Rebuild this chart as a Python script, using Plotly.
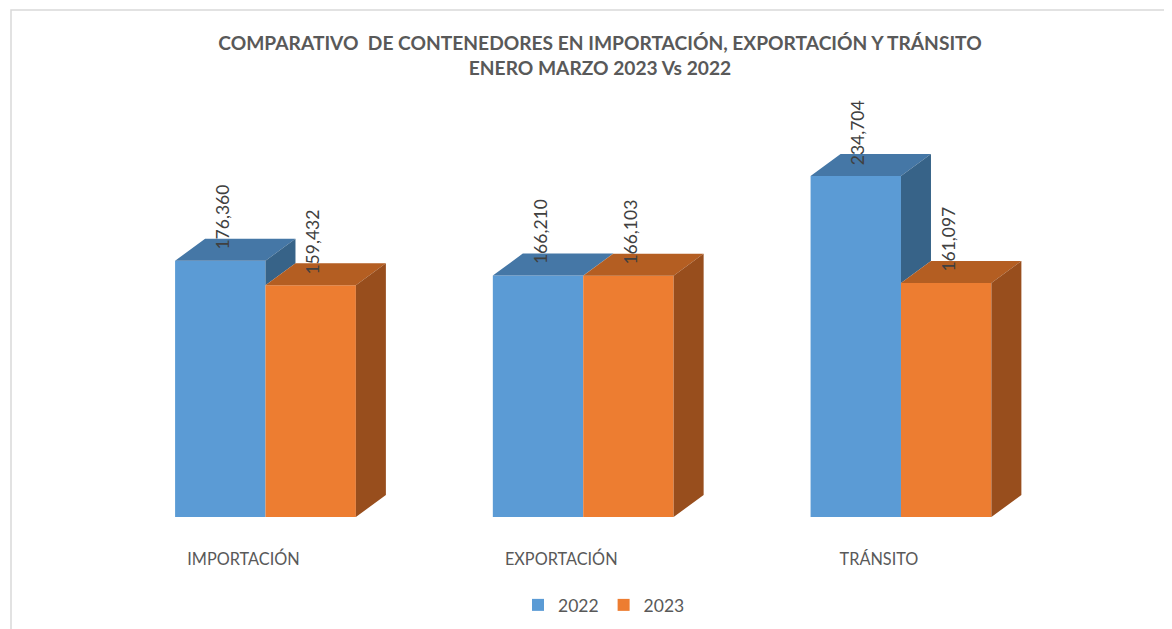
import plotly.graph_objects as go

categories = ["IMPORTACIÓN", "EXPORTACIÓN", "TRÁNSITO"]
years = ["2022", "2023"]
values_2022 = [176360, 166210, 234704]
values_2023 = [159432, 166103, 161097]

front_colors = ["#5B9BD5", "#ED7D31"]
top_colors = ["#4577A6", "#B45E22"]
side_colors = ["#376388", "#984E1D"]

# page has an 8px body margin, so the figure is drawn a bit smaller
W, H = 1164, 621
ML, MR, MT, MB = 20, 20, 92, 112
X_RANGE = [-0.7474, 2.79]
Y_RANGE = [0, 287000]
BARGAP = 0.431

px_x = (W - ML - MR) / (X_RANGE[1] - X_RANGE[0])
px_y = (H - MT - MB) / (Y_RANGE[1] - Y_RANGE[0])
dx = 30 / px_x      # depth of the fake 3d box
dy = 22 / px_y
bw = (1 - BARGAP) / 2

series = [values_2022, values_2023]
pos = list(range(len(categories)))

fig = go.Figure()

for k, vals in enumerate(series):
    fig.add_bar(x=pos, y=vals, name=years[k], marker_color=front_colors[k],
                marker_line_width=0, hoverinfo="skip")

# top and side faces
for k, vals in enumerate(series):
    tx, ty, sx, sy = [], [], [], []
    for i, v in enumerate(vals):
        x0 = i - bw + k * bw
        x1 = x0 + bw
        tx += [x0, x1, x1 + dx, x0 + dx, x0, None]
        ty += [v, v, v + dy, v + dy, v, None]
        lo = 0
        if k == 0:
            # the 2023 bar hides the lower part of the 2022 side face
            lo = series[1][i]
            if lo >= v:
                continue
        sx += [x1, x1, x1 + dx, x1 + dx, x1, None]
        sy += [lo, v, v + dy, lo + dy, lo, None]
    fig.add_trace(go.Scatter(x=tx, y=ty, fill="toself", fillcolor=top_colors[k], mode="lines",
                             line=dict(width=0), showlegend=False, hoverinfo="skip"))
    fig.add_trace(go.Scatter(x=sx, y=sy, fill="toself", fillcolor=side_colors[k], mode="lines",
                             line=dict(width=0), showlegend=False, hoverinfo="skip"))

# data labels
for k, vals in enumerate(series):
    for i, v in enumerate(vals):
        xc = i - bw + k * bw + bw / 2
        fig.add_annotation(x=xc, y=v, text=f"{v:,}", textangle=-90, showarrow=False,
                           xanchor="center", yanchor="bottom", xshift=2, yshift=9,
                           font=dict(family="Lato", size=17.5, color="#404040"))

fig.add_shape(type="rect", xref="paper", yref="paper",
              x0=(3 - ML) / (W - ML - MR), x1=1.1,
              y0=-0.5, y1=1 + (MT - 2) / (H - MT - MB),
              line=dict(color="#D9D9D9", width=1.5))

fig.update_layout(
    width=W, height=H,
    margin=dict(l=ML, r=MR, t=MT, b=MB),
    paper_bgcolor="white", plot_bgcolor="white",
    barmode="group", bargap=BARGAP, bargroupgap=0,
    title=dict(text="COMPARATIVO  DE CONTENEDORES EN IMPORTACIÓN, EXPORTACIÓN Y TRÁNSITO<br>ENERO MARZO 2023 Vs 2022",
               x=592 / W, xanchor="center", xref="container",
               y=1 - 42 / H, yanchor="top", yref="container",
               font=dict(family="Lato", size=19.2, color="#595959", weight="bold")),
    legend=dict(orientation="h", x=596 / W, xanchor="center", xref="container",
                y=1 - 597 / H, yanchor="middle", yref="container",
                font=dict(family="Lato", size=17.5, color="#595959"), itemwidth=30),
    showlegend=True,
)
fig.update_xaxes(range=X_RANGE, tickvals=pos, ticktext=categories, showgrid=False,
                 zeroline=False, showline=False, ticks="", ticklabelshift=-22,
                 ticklabelstandoff=31, tickfont=dict(family="Lato", size=16.3, color="#595959"))
fig.update_yaxes(range=Y_RANGE, showgrid=False, zeroline=False, showline=False,
                 showticklabels=False)

fig.write_html("out.html")
